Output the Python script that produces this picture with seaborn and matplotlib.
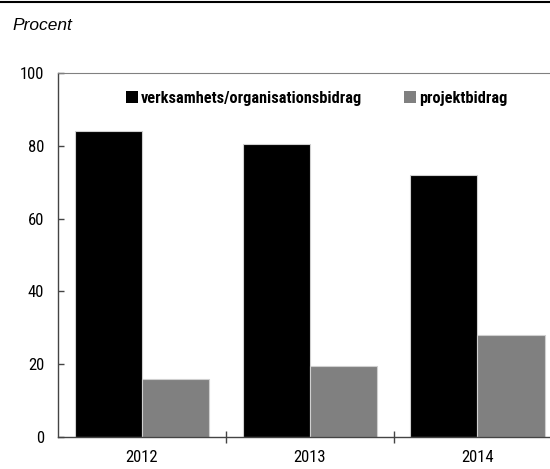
import matplotlib
matplotlib.use('Agg')

import matplotlib.pyplot as plt
from matplotlib.lines import Line2D
from matplotlib.ticker import FixedLocator
import seaborn as sns
import pandas as pd

# Data
years = ['2012', '2013', '2014']
verksamhet = [84.0, 80.4, 72.1]
projekt = [16.0, 19.6, 27.9]
series = ['verksamhets/organisationsbidrag', 'projektbidrag']

df = pd.DataFrame({
    'year': years * 2,
    'value': verksamhet + projekt,
    'type': [series[0]] * 3 + [series[1]] * 3,
})

sns.set_style('white')
narrow = ['Roboto Condensed', 'DejaVu Sans']
plt.rcParams['font.family'] = narrow
plt.rcParams['text.color'] = 'black'
plt.rcParams['xtick.color'] = 'black'
plt.rcParams['ytick.color'] = 'black'

fig = plt.figure(figsize=(5.5, 4.69), dpi=100)
ax = fig.add_axes([0.1055, 0.0682, 0.915, 0.776])

sns.barplot(data=df, x='year', y='value', hue='type', hue_order=series,
            palette=['#000000', '#808080'], width=0.8, saturation=1,
            edgecolor='#d0d0d0', linewidth=0.8, ax=ax)

ax.set_ylim(0, 100)
ax.set_xlim(-0.5, 2.5)
ax.set_yticks([0, 20, 40, 60, 80, 100])
ax.set_xlabel('')
ax.set_ylabel('')

for side in ['left', 'bottom']:
    ax.spines[side].set_color('#444444')
    ax.spines[side].set_linewidth(1.0)
ax.spines['top'].set_color('#808080')
ax.spines['right'].set_color('#808080')

ax.tick_params(axis='y', direction='in', length=4, width=1, color='#444444',
               pad=10, labelsize=12, left=True)
ax.tick_params(axis='x', which='major', length=0, pad=9, labelsize=12)
ax.xaxis.set_minor_locator(FixedLocator([0.5, 1.5]))
ax.tick_params(axis='x', which='minor', direction='inout', length=9,
               width=1, color='#444444', bottom=True)

leg = ax.legend(loc='center', bbox_to_anchor=(0.514, 0.931), ncol=2,
                frameon=False, handlelength=0.7, handleheight=0.7,
                handletextpad=0.2, columnspacing=2.6,
                prop={'family': narrow, 'weight': 'bold', 'size': 11.7})
for h in leg.legend_handles:
    h.set_edgecolor('none')

fig.add_artist(Line2D([0, 1], [1 - 2 / 469, 1 - 2 / 469], color='black',
                      linewidth=1.5, transform=fig.transFigure))
fig.text(12 / 550, 1 - 25 / 469, 'Procent', fontstyle='italic', fontsize=12.5,
         family=['Liberation Sans', 'DejaVu Sans'], va='center', ha='left')

plt.savefig('out.png', dpi=100)
